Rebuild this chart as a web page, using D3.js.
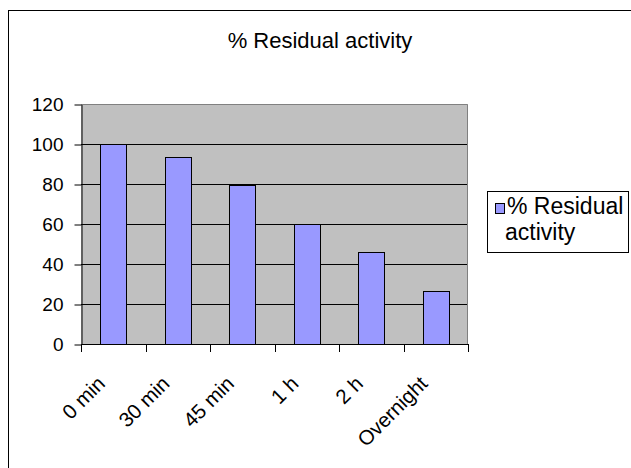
<!DOCTYPE html>
<html>
<head>
<meta charset="utf-8">
<script src="https://cdn.jsdelivr.net/npm/d3@7/dist/d3.min.js"></script>
<style>
  html, body { margin: 0; padding: 0; background: #fff; }
  svg { display: block; font-family: "Liberation Sans", Arial, sans-serif; }
</style>
</head>
<body>
<svg id="chart" width="631" height="468"></svg>
<script>
// Residual activity after incubation
const categories = ["0 min", "30 min", "45 min", "1 h", "2 h", "Overnight"];
const residual = [100, 93.5, 79.5, 60, 46, 26.5];
const yTicks = [0, 20, 40, 60, 80, 100, 120];
const seriesName = "% Residual activity";
const chartTitle = "% Residual activity";

const svg = d3.select("#chart");
const plot = { left: 81, right: 468, top: 104, bottom: 344 };

// chart frame (extends past the right and bottom edges)
svg.append("rect")
  .attr("x", 8.5).attr("y", 10.5)
  .attr("width", 640).attr("height", 480)
  .attr("fill", "#fff").attr("stroke", "#000").attr("stroke-width", 1);

const x = d3.scaleBand().domain(categories).range([plot.left, plot.right]).paddingInner(0).paddingOuter(0);
const y = d3.scaleLinear().domain([0, 120]).range([plot.bottom, plot.top]);

// plot background
svg.append("rect")
  .attr("x", plot.left).attr("y", plot.top)
  .attr("width", plot.right - plot.left).attr("height", plot.bottom - plot.top)
  .attr("fill", "#c0c0c0");
svg.append("path")
  .attr("d", `M${plot.left},${plot.top + 0.5}H${plot.right - 0.5}V${plot.bottom}`)
  .attr("fill", "none").attr("stroke", "#808080").attr("stroke-width", 1);

// gridlines
svg.append("g").selectAll("line")
  .data(yTicks.filter(t => t > 0 && t < 120))
  .join("line")
  .attr("x1", plot.left).attr("x2", plot.right - 1)
  .attr("y1", d => Math.round(y(d)) + 0.5).attr("y2", d => Math.round(y(d)) + 0.5)
  .attr("stroke", "#000").attr("stroke-width", 1);

// bars
const barW = x.bandwidth() * 0.41;
svg.append("g").selectAll("rect")
  .data(residual)
  .join("rect")
  .attr("x", (d, i) => Math.round(x(categories[i]) + (x.bandwidth() - barW) / 2) + 0.5)
  .attr("y", d => Math.round(y(d)) + 0.5)
  .attr("width", Math.round(barW))
  .attr("height", d => Math.round(y(0)) - Math.round(y(d)))
  .attr("fill", "#9999ff").attr("stroke", "#000").attr("stroke-width", 1);

// y axis
const yAxis = svg.append("g")
  .attr("transform", `translate(${plot.left + 0.5},0.5)`)
  .call(d3.axisLeft(y).tickValues(yTicks).tickSize(7).tickPadding(11).tickSizeOuter(0));
yAxis.select(".domain").attr("stroke", "#000");
yAxis.selectAll("line").attr("stroke", "#000");
yAxis.selectAll("text").attr("font-size", 19).attr("fill", "#000")
  .attr("font-family", "Liberation Sans, Arial, sans-serif");

// x axis: ticks at category boundaries
const xg = svg.append("g");
xg.append("line")
  .attr("x1", plot.left).attr("x2", plot.right)
  .attr("y1", plot.bottom + 0.5).attr("y2", plot.bottom + 0.5)
  .attr("stroke", "#000");
xg.selectAll("line.tick")
  .data(categories.concat([null]))
  .join("line").attr("class", "tick")
  .attr("x1", (d, i) => Math.round(plot.left + i * x.step()) + 0.5)
  .attr("x2", (d, i) => Math.round(plot.left + i * x.step()) + 0.5)
  .attr("y1", plot.bottom).attr("y2", plot.bottom + 8)
  .attr("stroke", "#000");
xg.selectAll("text")
  .data(categories)
  .join("text")
  .attr("transform", d => `translate(${x(d) + x.bandwidth() / 2 - 7},${plot.bottom + 41}) rotate(-45)`)
  .attr("text-anchor", "end")
  .attr("font-size", 20.5)
  .attr("fill", "#000")
  .text(d => d);

// title
svg.append("text")
  .attr("x", 320).attr("y", 48)
  .attr("text-anchor", "middle")
  .attr("font-size", 22)
  .attr("fill", "#000")
  .text(chartTitle);

// legend
const lg = svg.append("g");
lg.append("rect")
  .attr("x", 487.5).attr("y", 191.5).attr("width", 141).attr("height", 61)
  .attr("fill", "#fff").attr("stroke", "#000");
lg.append("rect")
  .attr("x", 495.5).attr("y", 203.5).attr("width", 9).attr("height", 10)
  .attr("fill", "#9999ff").attr("stroke", "#000");
const words = seriesName.split(" ");
lg.append("text")
  .attr("x", 507).attr("y", 214)
  .attr("font-size", 23).attr("fill", "#000")
  .selectAll("tspan")
  .data([words.slice(0, 2).join(" "), words.slice(2).join(" ")])
  .join("tspan")
  .attr("x", (d, i) => i === 0 ? 507 : 505)
  .attr("dy", (d, i) => i === 0 ? 0 : 26)
  .text(d => d);
</script>
</body>
</html>
